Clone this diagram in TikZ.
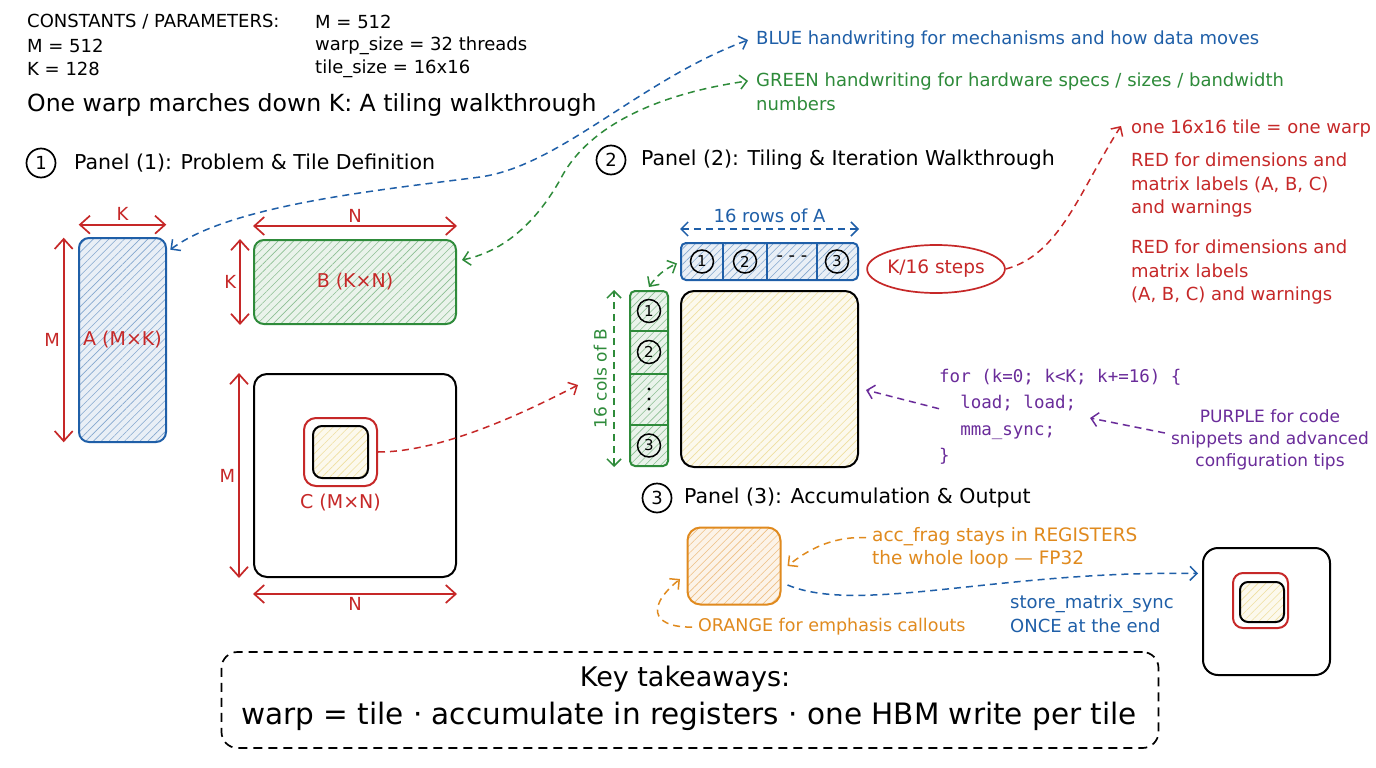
\documentclass[tikz,border=0pt]{standalone}
\usepackage{fontspec}
\setmainfont{DejaVu Sans}
\setmonofont{DejaVu Sans Mono}
\usetikzlibrary{arrows.meta,shapes.geometric,positioning,patterns.meta,calc}

\definecolor{inkblue}{HTML}{1F5FA8}
\definecolor{inkgreen}{HTML}{2E8B3A}
\definecolor{inkred}{HTML}{C62828}
\definecolor{inkorange}{HTML}{E08A1E}
\definecolor{inkpurple}{HTML}{6A2C9A}
\definecolor{tileyellow}{HTML}{E2C450}

\begin{document}
\begin{tikzpicture}[
    x=1pt, y=-1pt,
    >={Straight Barb[length=7pt,width=14pt]},
    every node/.style={font=\fontsize{18}{22}\selectfont},
    txt/.style={anchor=west, inner sep=0pt, align=left},
    note/.style={txt, font=\fontsize{18}{23.5}\selectfont},
    hdr/.style={txt, font=\fontsize{20.5}{24}\selectfont},
    numc/.style={circle, draw, line width=1.7pt, inner sep=0pt, minimum size=29pt,
                 font=\fontsize{18}{20}\selectfont},
    cellc/.style={circle, draw, line width=1.5pt, inner sep=0pt, minimum size=23pt,
                  font=\fontsize{15}{16}\selectfont},
    mat/.style={draw, line width=2pt, rounded corners=10pt, inner sep=0pt},
    hatch/.style={preaction={fill=#1!10},
                  pattern={Lines[angle=45,distance=5.5pt,line width=0.6pt]},
                  pattern color=#1!55},
    dimarr/.style={inkred, line width=1.7pt, {Straight Barb[length=10pt,width=18pt]}-{Straight Barb[length=10pt,width=18pt]}},
    dimlbl/.style={text=inkred, inner sep=3pt, font=\fontsize{18}{20}\selectfont},
    mlbl/.style={text=inkred, font=\fontsize{19}{22}\selectfont},
    flow/.style={line width=1.5pt, dash pattern=on 7pt off 5pt}
]
\useasboundingbox (0,0) rectangle (1376,768);
\fill[white] (0,0) rectangle (1376,768);

% constants and title
\node[txt] (cst) at (27,22) {CONSTANTS / PARAMETERS:};
\node[txt] (cM2) at (315,22) {M = 512};
\node[txt] (cM) at (27,46) {M = 512};
\node[txt] (cW) at (315,46) {warp\_size = 32 threads};
\node[txt] (cK) at (27,69) {K = 128};
\node[txt] (cT) at (315,69) {tile\_size = 16x16};
\node[txt, font=\fontsize{23.6}{28}\selectfont] (title) at (27,105)
    {One warp marches down K: A tiling walkthrough};

% legend
\node[note, text=inkblue] (legBlue) at (756,40)
    {BLUE handwriting for mechanisms and how data moves};
\node[note, text=inkgreen, anchor=north west] (legGreen) at (756,73)
    {GREEN handwriting for hardware specs / sizes / bandwidth\\numbers};
\node[note, text=inkred] (tile16) at (1131,129) {one 16x16 tile = one warp};
\node[note, text=inkred, anchor=north west] (redA) at (1131,153)
    {RED for dimensions and\\matrix labels (A, B, C)\\and warnings};
\node[note, text=inkred, anchor=north west] (redB) at (1131,240)
    {RED for dimensions and\\matrix labels\\(A, B, C) and warnings};

% panel headers
\node[numc] (n1) at (41,163) {1};
\node[hdr] (p1) at (74,163) {Panel (1): Problem \& Tile Definition};
\node[numc] (n2) at (611,160) {2};
\node[hdr] (p2) at (641,160) {Panel (2): Tiling \& Iteration Walkthrough};
\node[numc] (n3) at (657,498) {3};
\node[hdr] (p3) at (684,498) {Panel (3): Accumulation \& Output};

% panel 1: A, B, C
\node[mat, hatch=inkblue, draw=inkblue, minimum width=87pt, minimum height=204pt, mlbl] (A) at (122.5,340) {A (M×K)};
\node[mat, hatch=inkgreen, draw=inkgreen, minimum width=202pt, minimum height=84pt, mlbl] (B) at (355,282) {B (K×N)};
\node[mat, draw=black, rounded corners=13pt, minimum width=202pt, minimum height=203pt] (C) at (355,475.5) {};
\node[mat, draw=inkred, rounded corners=12pt, minimum width=73pt, minimum height=68pt] (Cred) at (340.5,452) {};
\node[mat, hatch=tileyellow, draw=black, rounded corners=9pt, minimum width=55pt, minimum height=52pt] (Ctile) at (340.5,452) {};
\node[mlbl, below=4pt of Cred] (Clab) {C (M×N)};

\draw[dimarr] ([yshift=13pt]A.north west) -- node[above, dimlbl]{K} ([yshift=13pt]A.north east);
\draw[dimarr] ([xshift=-15pt]A.north west) -- node[left, dimlbl]{M} ([xshift=-15pt]A.south west);
\draw[dimarr] ([yshift=13pt]B.north west) -- node[above, dimlbl]{N} ([yshift=13pt]B.north east);
\draw[dimarr] ([xshift=-13pt]B.north west) -- node[left, dimlbl]{K} ([xshift=-13pt]B.south west);
\draw[dimarr] ([xshift=-14pt]C.north west) -- node[left, dimlbl]{M} ([xshift=-14pt]C.south west);
\draw[dimarr] ([yshift=-16pt]C.south west) -- node[below, dimlbl]{N} ([yshift=-16pt]C.south east);

% panel 2: strips and output tile
\node[mat, hatch=inkblue, draw=inkblue, rounded corners=5pt, minimum width=177pt, minimum height=37pt] (Astrip) at (769.5,261.5) {};
\foreach \xx in {723,767,817} \draw[inkblue, line width=1.5pt] (\xx,243) -- (\xx,280);
\node[cellc] (a1) at (702,261.5) {1};
\node[cellc] (a2) at (745,261.5) {2};
\node (adots) at (792,259) {- - -};
\node[cellc] (a3) at (837,261.5) {3};

\node[mat, hatch=inkgreen, draw=inkgreen, rounded corners=5pt, minimum width=38pt, minimum height=175pt] (Bstrip) at (649,378.5) {};
\foreach \yy in {331,374,425} \draw[inkgreen, line width=1.5pt] (630,\yy) -- (668,\yy);
\node[cellc] (b1) at (649,311) {1};
\node[cellc] (b2) at (649,352) {2};
\foreach \yy in {389,399,409} \fill (649,\yy) circle (1.6pt);
\node[cellc] (b3) at (649,445.5) {3};

\node[mat, hatch=tileyellow, draw=black, rounded corners=13pt, minimum width=177pt, minimum height=176pt] (Y) at (769.5,379) {};

\draw[flow, inkblue, <->] ([yshift=13pt]Astrip.north west) -- node[above=2pt, text=inkblue]{16 rows of A} ([yshift=13pt]Astrip.north east);
\draw[flow, inkgreen, <->] ([xshift=-15pt]Bstrip.south west) -- node[sloped, above=3pt, text=inkgreen, font=\fontsize{17}{20}\selectfont]{16 cols of B} ([xshift=-15pt]Bstrip.north west);
\draw[flow, inkgreen, <->] ([yshift=3pt]Bstrip.north) to[bend left=15] ([xshift=-3pt,yshift=-2pt]Astrip.west);

\node[ellipse, draw=inkred, line width=1.7pt, text=inkred, inner sep=0pt, minimum width=122pt, minimum height=48pt,
      font=\fontsize{18.5}{20}\selectfont] (steps) at (936,269) {K/16 steps};
\draw[flow, inkred, ->] (steps.east) .. controls (1060,255) and (1080,190) .. ([xshift=-10pt,yshift=3pt]tile16.west);

% code snippet
\node[txt, anchor=north west, text=inkpurple, font=\ttfamily\fontsize{17.5}{26.3}\selectfont] (code) at (939,369)
    {for (k=0; k<K; k+=16) \{\\\phantom{fo}load; load;\\\phantom{fo}mma\_sync;\\\}};
\draw[flow, inkpurple, ->] ([yshift=8pt]code.west) -- ([xshift=7pt,yshift=-11pt]Y.east);
\node[note, text=inkpurple, align=center, anchor=center, font=\fontsize{17}{22}\selectfont] (ptip) at (1270,440)
    {PURPLE for code\\snippets and advanced\\configuration tips};
\coordinate (loadEnd) at (1090,418);
\draw[flow, inkpurple, ->] ([xshift=-6pt,yshift=7pt]ptip.west) -- (loadEnd);

% panel 3: accumulator and output
\node[mat, hatch=inkorange, draw=inkorange, rounded corners=13pt, minimum width=93pt, minimum height=77pt] (O) at (734,566) {};
\node[note, text=inkorange, anchor=north west, font=\fontsize{18.5}{23}\selectfont] (accNote) at (872,527)
    {acc\_frag stays in REGISTERS\\the whole loop — FP32};
\draw[flow, inkorange, ->] ([xshift=-6pt,yshift=10pt]accNote.west) .. controls (830,536) and (805,552) .. ([xshift=6pt]O.east);
\node[note, text=inkorange, font=\fontsize{17.5}{20}\selectfont] (emph) at (698,627) {ORANGE for emphasis callouts};
\coordinate (emphTip) at (680,579);
\draw[flow, inkorange, ->] ([xshift=-6pt]emph.west) .. controls (660,628) and (640,612) .. (emphTip);

\node[mat, draw=black, rounded corners=15pt, minimum width=127pt, minimum height=127pt] (Out) at (1266.5,611.5) {};
\node[mat, draw=inkred, rounded corners=10pt, minimum width=55pt, minimum height=55pt] (OutRed) at (1260.5,600.5) {};
\node[mat, hatch=tileyellow, draw=black, rounded corners=8pt, minimum width=44pt, minimum height=40pt] (OutTile) at (1262,602) {};
\draw[flow, inkblue, ->] ([xshift=6pt,yshift=-19pt]O.east) .. controls (860,615) and (1000,570) .. ([xshift=-4pt,yshift=38pt]Out.west);
\node[note, text=inkblue, anchor=north west] (storeNote) at (1010,595)
    {store\_matrix\_sync\\ONCE at the end};

% long callouts
\coordinate (blueMid) at (480,177);
\coordinate (greenMid) at (560,180);
\draw[flow, inkblue, <->] ([xshift=4pt,yshift=-12pt]A.north east) .. controls (230,205) and (380,190) .. (blueMid)
    .. controls (560,166) and (640,80) .. ([xshift=-8pt]legBlue.west);
\draw[flow, inkgreen, <->] ([xshift=5pt,yshift=22pt]B.east) .. controls (510,250) and (540,215) .. (greenMid)
    .. controls (585,130) and (650,95) .. ([xshift=-8pt,yshift=11pt]legGreen.west);
\coordinate (colsIn) at (578,385);
\draw[flow, inkred, ->] (Cred.east) .. controls (440,452) and (520,415) .. (colsIn);

% key takeaways
\node[draw, line width=1.7pt, dash pattern=on 9pt off 6pt, rounded corners=16pt, minimum width=937pt, minimum height=96pt] (keybox) at (690,700) {};
\node[font=\fontsize{27}{30}\selectfont] (keyT) at (685,679) {Key takeaways:};
\node[font=\fontsize{29.5}{32}\selectfont] (keyL) at (689,716) {warp = tile · accumulate in registers · one HBM write per tile};
\end{tikzpicture}
\end{document}
